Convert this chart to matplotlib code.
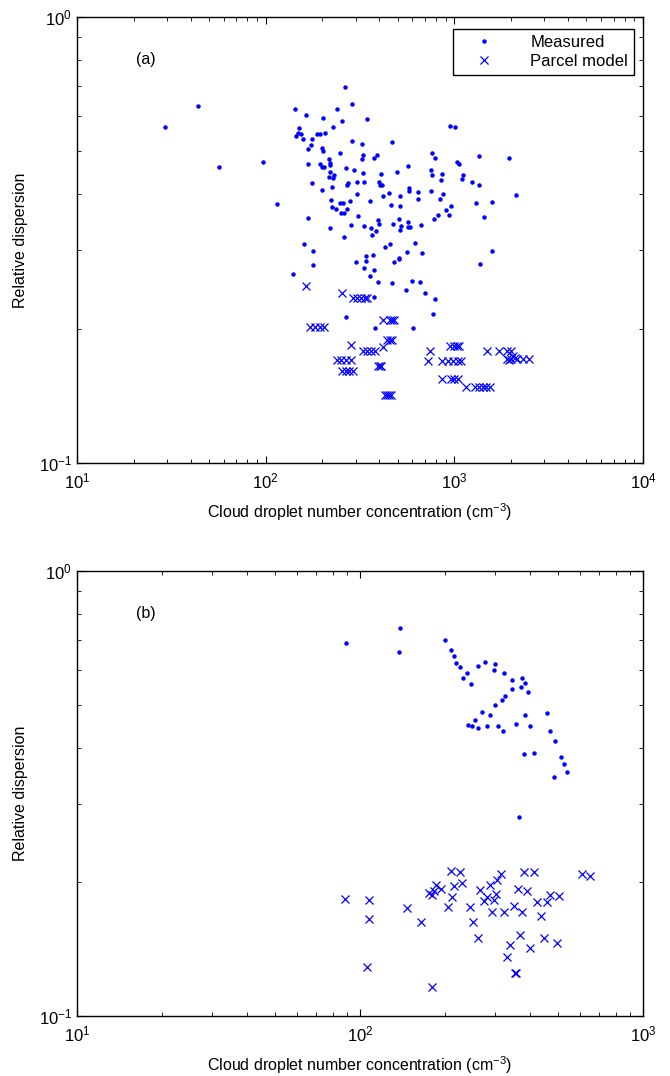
import matplotlib
matplotlib.use("Agg")
import matplotlib.pyplot as plt
from matplotlib.ticker import LogLocator, NullFormatter

plt.rcParams['font.family'] = ['Liberation Sans', 'DejaVu Sans']
plt.rcParams['mathtext.default'] = 'regular'

# ---------- Panel (a) ----------
a_meas_x = [29.4, 43.6, 56.6, 97.2, 114.8, 142.6, 163, 149.6, 154.5, 149, 144.2, 158.3, 200.4, 186.4, 194,
            205.6, 227.5, 238, 253, 262.4, 286, 343, 176, 174, 167, 198, 201, 247, 286, 325, 328, 323, 375,
            389, 216, 218, 219, 194, 198, 205, 167, 266, 295, 328, 218, 229.5, 226.5, 216, 176, 199, 224,
            272, 271, 305, 332, 221, 279, 248, 256, 305, 356, 224, 236, 269, 250, 260, 307.6, 167, 219, 282,
            333, 360, 383, 393, 400, 366, 260, 160, 177.5, 177.5, 139, 300, 339, 339, 371, 331, 375, 357,
            393, 375, 267, 378,
            466, 948, 1008, 761, 787, 1029, 1058, 1355, 1949, 408, 566, 498.6, 752, 761, 857, 853, 1107,
            1098, 1236, 1345, 400, 405, 415, 417, 449, 515, 577, 573, 640, 640, 752, 867, 839, 461, 515,
            511, 568, 471, 520, 515, 570, 580, 665, 964, 903, 937, 816, 780, 1302, 1589, 1431, 2123, 429,
            454, 619, 561, 674, 481, 507, 511, 1577, 1362, 599, 658, 466, 554, 697, 787, 771, 606]
a_meas_y = [0.566, 0.632, 0.460, 0.472, 0.380, 0.622, 0.604, 0.563, 0.547, 0.549, 0.540, 0.533, 0.594,
            0.548, 0.546, 0.549, 0.566, 0.621, 0.585, 0.698, 0.638, 0.590, 0.532, 0.516, 0.506, 0.509,
            0.501, 0.496, 0.528, 0.520, 0.491, 0.480, 0.484, 0.491, 0.480, 0.470, 0.466, 0.469, 0.462,
            0.460, 0.469, 0.459, 0.453, 0.447, 0.450, 0.442, 0.435, 0.437, 0.425, 0.409, 0.416, 0.424,
            0.419, 0.427, 0.427, 0.388, 0.387, 0.382, 0.383, 0.400, 0.387, 0.374, 0.372, 0.372, 0.364,
            0.364, 0.358, 0.355, 0.336, 0.342, 0.340, 0.337, 0.332, 0.351, 0.343, 0.324, 0.321, 0.310,
            0.298, 0.278, 0.265, 0.283, 0.291, 0.284, 0.293, 0.273, 0.271, 0.263, 0.254, 0.236, 0.212,
            0.201,
            0.524, 0.571, 0.568, 0.496, 0.484, 0.474, 0.468, 0.489, 0.483, 0.444, 0.463, 0.449, 0.455,
            0.442, 0.445, 0.430, 0.442, 0.433, 0.426, 0.421, 0.427, 0.420, 0.421, 0.397, 0.404, 0.397,
            0.414, 0.407, 0.406, 0.391, 0.408, 0.402, 0.391, 0.379, 0.377, 0.353, 0.347, 0.343, 0.340,
            0.333, 0.339, 0.339, 0.342, 0.377, 0.370, 0.360, 0.359, 0.352, 0.382, 0.384, 0.357, 0.399,
            0.305, 0.310, 0.311, 0.297, 0.296, 0.283, 0.288, 0.287, 0.299, 0.280, 0.256, 0.254, 0.253,
            0.244, 0.241, 0.233, 0.216, 0.201]

a_model_x = [164, 255, 290, 305, 320, 335, 344, 172, 182, 195, 205, 284, 238, 252, 268, 285, 255, 265,
             275, 290, 420, 455, 470, 480, 440, 455, 465, 420, 330, 345, 360, 380, 395, 405, 410, 430,
             440, 450, 460, 743, 723, 860, 920, 980, 1040, 1090, 950, 990, 1030, 1060, 857, 960, 1000,
             1040, 1153, 1290, 1350, 1420, 1480, 1540, 1484, 1730, 1900, 2000, 2050, 1950, 2100, 1900,
             2000, 2150, 2300, 2500]
a_model_y = [0.250, 0.240, 0.234, 0.234, 0.234, 0.234, 0.234, 0.202, 0.202, 0.202, 0.202, 0.184, 0.170,
             0.170, 0.170, 0.170, 0.161, 0.161, 0.161, 0.161, 0.209, 0.209, 0.209, 0.209, 0.189, 0.189,
             0.189, 0.182, 0.178, 0.178, 0.178, 0.178, 0.165, 0.165, 0.165, 0.142, 0.142, 0.142, 0.142,
             0.178, 0.169, 0.169, 0.169, 0.169, 0.169, 0.169, 0.183, 0.183, 0.183, 0.183, 0.154, 0.154,
             0.154, 0.154, 0.148, 0.148, 0.148, 0.148, 0.148, 0.148, 0.178, 0.178, 0.178, 0.178, 0.174,
             0.170, 0.172, 0.171, 0.171, 0.171, 0.171, 0.171]

# ---------- Panel (b) ----------
b_meas_x = [89.3, 138, 137, 200, 209, 214, 219, 226, 232, 239, 247, 261, 277, 298, 300, 323, 344, 373,
            382, 392, 370, 344, 325, 317, 300, 288, 270, 255, 241, 249, 261, 281, 307, 320, 356, 382, 398,
            379, 411, 457, 468, 487, 512, 524, 541, 483, 364]
b_meas_y = [0.689, 0.745, 0.659, 0.699, 0.666, 0.643, 0.622, 0.607, 0.575, 0.589, 0.556, 0.613, 0.625,
            0.598, 0.619, 0.589, 0.569, 0.575, 0.561, 0.534, 0.550, 0.542, 0.524, 0.514, 0.499, 0.475,
            0.482, 0.463, 0.450, 0.448, 0.443, 0.448, 0.448, 0.437, 0.454, 0.475, 0.448, 0.387, 0.390,
            0.480, 0.437, 0.416, 0.381, 0.368, 0.354, 0.345, 0.280]

b_model_x = [88.5, 108, 108, 106, 146, 164, 176, 180, 183, 186, 194, 204, 210, 226, 230, 215, 212, 245,
             251, 261, 266, 275, 281, 288, 293, 298, 303, 305, 315, 323, 331, 339, 350, 356, 361, 367, 373,
             379, 388, 398, 411, 421, 435, 446, 457, 468, 495, 504, 610, 650, 180, 353]
b_model_y = [0.183, 0.182, 0.165, 0.129, 0.175, 0.163, 0.189, 0.187, 0.191, 0.197, 0.193, 0.176, 0.212,
             0.211, 0.199, 0.196, 0.185, 0.176, 0.163, 0.150, 0.192, 0.181, 0.185, 0.197, 0.171, 0.182,
             0.188, 0.202, 0.208, 0.171, 0.1355, 0.1445, 0.177, 0.125, 0.193, 0.152, 0.171, 0.211, 0.191,
             0.142, 0.211, 0.180, 0.168, 0.150, 0.180, 0.187, 0.146, 0.186, 0.208, 0.206, 0.1164, 0.125]

BLUE = (0, 0, 1)

fig = plt.figure(figsize=(6.70, 10.76), dpi=100)
ax1 = fig.add_axes([77 / 670, 1 - 463 / 1076, 566 / 670, 446 / 1076])
ax2 = fig.add_axes([77 / 670, 1 - 1016 / 1076, 566 / 670, 445 / 1076])


def style(ax, xmax, label):
    ax.set_xscale('log')
    ax.set_yscale('log')
    ax.set_xlim(10, xmax)
    ax.set_ylim(0.1, 1)
    ax.xaxis.set_major_locator(LogLocator(base=10, numticks=10))
    ax.xaxis.set_minor_locator(LogLocator(base=10, subs=range(2, 10), numticks=20))
    ax.yaxis.set_minor_locator(LogLocator(base=10, subs=range(2, 10), numticks=20))
    ax.xaxis.set_minor_formatter(NullFormatter())
    ax.yaxis.set_minor_formatter(NullFormatter())
    ax.tick_params(which='both', direction='in', top=True, right=True, labelsize=12)
    ax.tick_params(which='major', length=5, width=0.8)
    ax.tick_params(which='minor', length=3, width=0.6)
    ax.tick_params(axis='x', which='major', pad=6)
    for s in ax.spines.values():
        s.set_linewidth(1.0)
    ax.set_xlabel('Cloud droplet number concentration (cm$^{-3}$)', fontsize=11.5, labelpad=7)
    ax.set_ylabel('Relative dispersion', fontsize=11.5, labelpad=8)
    ax.text(0.105, 0.895, label, transform=ax.transAxes, fontsize=11.5)


style(ax1, 1e4, '(a)')
style(ax2, 1e3, '(b)')

ax1.plot(a_meas_x, a_meas_y, linestyle='none', marker='o', markersize=2.2, color=BLUE, label='Measured')
ax1.plot(a_model_x, a_model_y, linestyle='none', marker='x', markersize=5.5, markeredgewidth=0.9,
         color=BLUE, label='Parcel model')
ax2.plot(b_meas_x, b_meas_y, linestyle='none', marker='o', markersize=2.2, color=BLUE)
ax2.plot(b_model_x, b_model_y, linestyle='none', marker='x', markersize=5.5, markeredgewidth=0.9,
         color=BLUE)

leg = ax1.legend(loc='upper right', bbox_to_anchor=(0.993, 0.985), fontsize=12, frameon=True,
                 fancybox=False, edgecolor='black', framealpha=1, borderpad=0.35, handlelength=3.0,
                 handletextpad=1.3, labelspacing=0.25, borderaxespad=0.3)
leg.get_frame().set_linewidth(1.0)

fig.savefig('out.png', dpi=100)
